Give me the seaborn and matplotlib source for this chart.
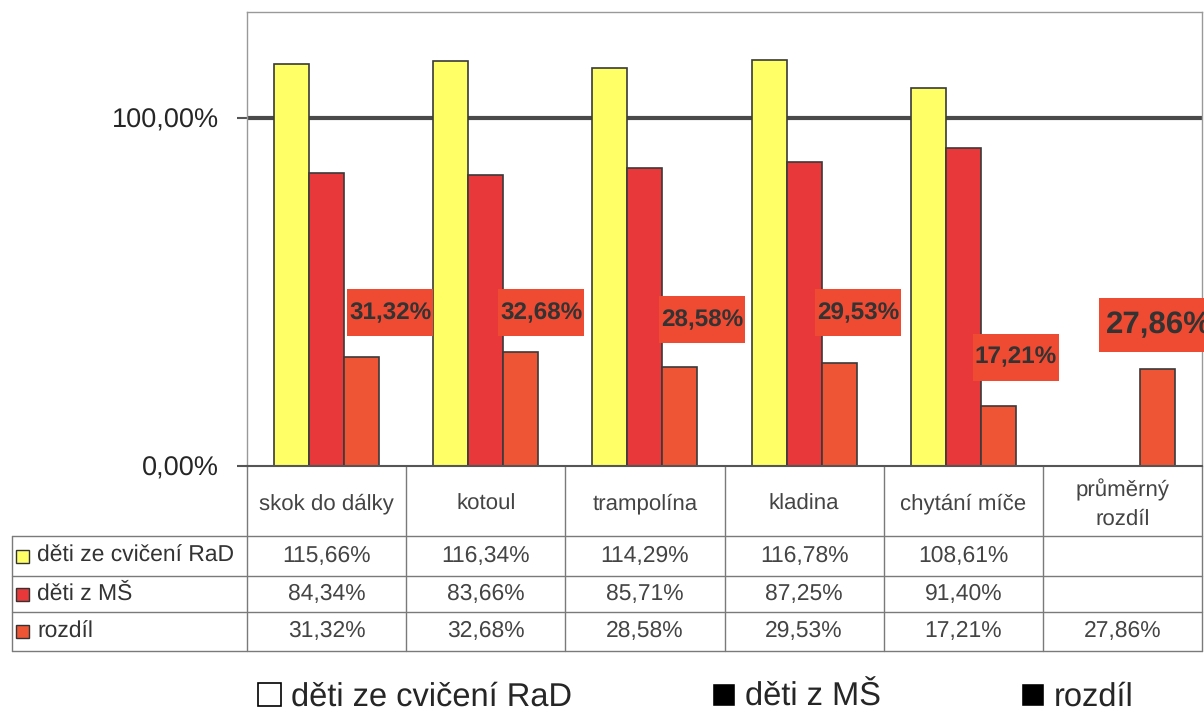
import numpy as np
import pandas as pd
import seaborn as sns
import matplotlib.pyplot as plt
from matplotlib.patches import Patch, Rectangle
from matplotlib.lines import Line2D
from matplotlib import transforms

categories = ['skok do dálky', 'kotoul', 'trampolína', 'kladina', 'chytání míče', 'průměrný\nrozdíl']
series = ['děti ze cvičení RaD', 'děti z MŠ', 'rozdíl']
rad = [115.66, 116.34, 114.29, 116.78, 108.61, np.nan]
ms = [84.34, 83.66, 85.71, 87.25, 91.40, np.nan]
rozdil = [31.32, 32.68, 28.58, 29.53, 17.21, 27.86]
yticks = [0, 100]
ytick_labels = ['0,00%', '100,00%']

colors = {'děti ze cvičení RaD': '#FFFF66', 'děti z MŠ': '#E8383A', 'rozdíl': '#EE5535'}


def fmt(v):
    return f"{v:.2f}".replace('.', ',') + '%'


df = pd.DataFrame({
    'kategorie': categories * 3,
    'serie': [s for s in series for _ in categories],
    'hodnota': rad + ms + rozdil,
})

sns.set_style('white')
plt.rcParams['font.family'] = ['Liberation Sans', 'DejaVu Sans']
plt.rcParams['text.hinting'] = 'no_hinting'

W, H = 1204, 713
fig = plt.figure(figsize=(W / 100, H / 100), dpi=100)
ax = fig.add_axes([247 / W, 1 - 466 / H, (1202 - 247) / W, (466 - 12) / H])

sns.barplot(data=df, x='kategorie', y='hodnota', hue='serie', hue_order=series,
            palette=colors, saturation=1, width=0.66, edgecolor='#3a3a3a',
            linewidth=1.2, errorbar=None, legend=False, ax=ax, zorder=2)

ax.axhline(100, color='#4a4a4a', lw=3, zorder=1)
ax.set_xlim(-0.5, len(categories) - 0.5)
ax.set_ylim(0, 130.5)
ax.set_xticks([])
ax.set_xlabel('')
ax.set_ylabel('')
ax.set_yticks(yticks, ytick_labels, fontsize=19.5)
ax.tick_params(axis='y', length=7, width=1.5, color='#555555', pad=13, left=True)
for side in ['top', 'left', 'right']:
    ax.spines[side].set_color('#999999')
    ax.spines[side].set_linewidth(1)
ax.spines['bottom'].set_color('#555555')
ax.spines['bottom'].set_linewidth(1.5)

# value labels for "rozdíl" (red boxes)
px_x = (1202 - 247) / len(categories)   # pixels per category
px_y = (466 - 12) / 130.5               # pixels per percent
label_dx = [0.40, 0.35, 0.36, 0.34, 0.33, 0.23]
label_dy = [12.7, 11.3, 13.5, 14.5, 14.0, 12.6]
for i, v in enumerate(rozdil):
    last = i == len(rozdil) - 1
    bw, bh = (120, 54) if last else (86, 47)
    cx, cy = i + label_dx[i], v + label_dy[i]
    ax.add_patch(Rectangle((cx - bw / px_x / 2, cy - bh / px_y / 2), bw / px_x, bh / px_y,
                           fc='#EF4B32', ec='none', zorder=4, clip_on=False))
    ax.text(cx, cy, fmt(v), ha='center', va='center',
            fontsize=22.5 if last else 17.5, fontweight='bold', color='#333333',
            zorder=5, clip_on=False)

# data table under the chart
trans = transforms.blended_transform_factory(ax.transData, fig.transFigure)
row_y = [1 - 466 / H, 1 - 536 / H, 1 - 576 / H, 1 - 612 / H, 1 - 651 / H]
grid_c = '#7a7a7a'
for y in row_y[1:]:
    fig.add_artist(Line2D([12 / W, 1202 / W], [y, y], color=grid_c, lw=1))
fig.add_artist(Line2D([12 / W, 12 / W], [row_y[1], row_y[4]], color=grid_c, lw=1))
for b in np.arange(-0.5, len(categories), 1):
    ax.plot([b, b], [row_y[0], row_y[4]], transform=trans, clip_on=False,
            color=grid_c, lw=1)

for i, cat in enumerate(categories):
    ax.text(i, (row_y[0] + row_y[1]) / 2 - 0.004, cat, transform=trans, ha='center',
            va='center', fontsize=16, color='#444444', linespacing=1.5)

for r, (name, vals) in enumerate(zip(series, [rad, ms, rozdil])):
    ym = (row_y[r + 1] + row_y[r + 2]) / 2
    for i, v in enumerate(vals):
        if not np.isnan(v):
            ax.text(i, ym, fmt(v), transform=trans, ha='center', va='center',
                    fontsize=16.5, color='#444444')
    fig.text(37 / W, ym, name, ha='left', va='center', fontsize=16.5, color='#333333')
    fig.add_artist(Rectangle((16 / W, ym - 6.5 / H), 13 / W, 13 / H,
                             transform=fig.transFigure, fc=colors[name],
                             ec='#333333', lw=1))

# legend (printed in black & white in the scan)
handles = [Patch(fc='white', ec='black', lw=1.2), Patch(fc='black'), Patch(fc='black')]
fig.legend(handles=handles, labels=series, loc='center',
           bbox_to_anchor=(0.578, 1 - 697 / H), ncol=3, frameon=False,
           fontsize=23.5, handlelength=0.7, handleheight=0.7,
           handletextpad=0.3, columnspacing=4.3)

fig.savefig('out.png', dpi=100, facecolor='white')
